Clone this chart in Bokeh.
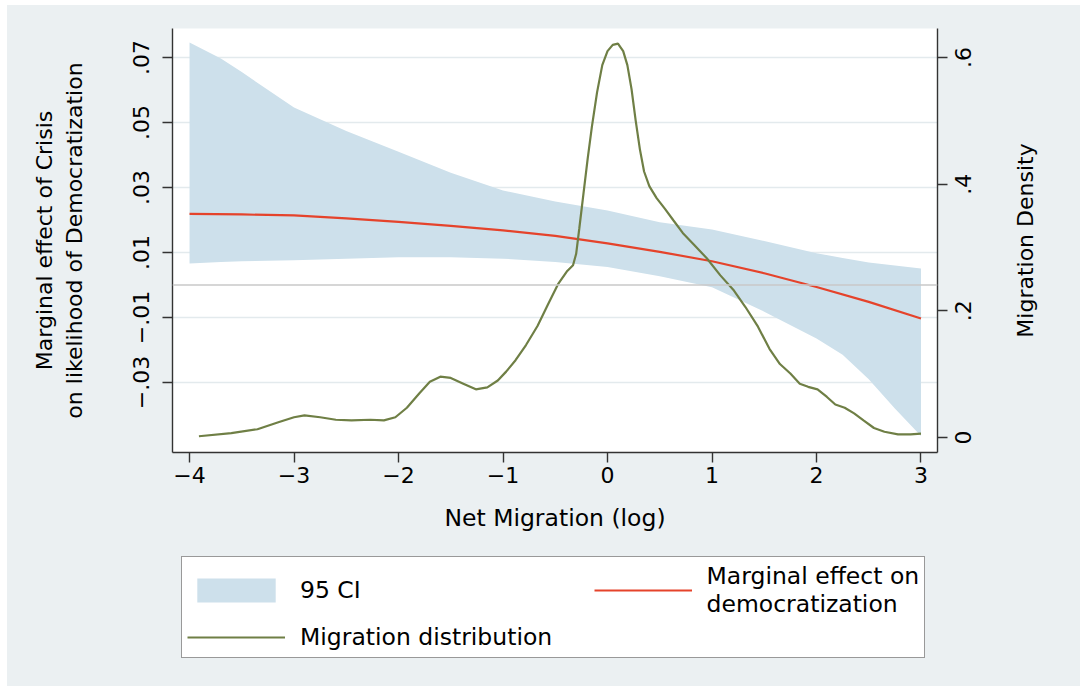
import math
from bokeh.plotting import figure
from bokeh.layouts import column, row
from bokeh.models import Range1d, LinearAxis, FixedTicker, Span, Legend, LegendItem
from bokeh.embed import file_html
from bokeh.resources import INLINE

# ---------------- data ----------------
ci_x = [-4.0, -3.7, -3.5, -3.0, -2.5, -2.0, -1.5, -1.0, -0.5, 0.0, 0.5, 1.0, 1.5, 2.0, 2.25, 2.5, 2.75, 3.0]
ci_upper = [0.0746, 0.0697, 0.0655, 0.0546, 0.0474, 0.0410, 0.0345, 0.0291, 0.0257, 0.0229, 0.0193,
            0.0171, 0.0135, 0.0098, 0.0083, 0.0069, 0.0060, 0.0051]
ci_lower = [0.0066, 0.0071, 0.0073, 0.0076, 0.0081, 0.0085, 0.0085, 0.0081, 0.0071, 0.0055, 0.0027,
            -0.0007, -0.0082, -0.0165, -0.0215, -0.0290, -0.0380, -0.0465]

me_x = [-4.0, -3.5, -3.0, -2.5, -2.0, -1.5, -1.0, -0.5, 0.0, 0.5, 1.0, 1.5, 2.0, 2.5, 3.0]
me_y = [0.0219, 0.0217, 0.0214, 0.0205, 0.0194, 0.0182, 0.0168, 0.0151, 0.0128, 0.0102, 0.0073,
        0.0036, -0.0006, -0.0052, -0.0103]

dens_x = [-3.91, -3.6, -3.35, -3.15, -3.0, -2.9, -2.75, -2.6, -2.45, -2.27, -2.14, -2.03, -1.92,
          -1.8, -1.7, -1.6, -1.5, -1.38, -1.26, -1.15, -1.05, -0.97, -0.88, -0.78, -0.67, -0.57,
          -0.47, -0.39, -0.33, -0.30, -0.27, -0.23, -0.19, -0.15, -0.10, -0.05, 0.0, 0.05, 0.10,
          0.15, 0.19, 0.23, 0.27, 0.31, 0.35, 0.40, 0.47, 0.55, 0.63, 0.72, 0.83, 0.95, 1.08, 1.21,
          1.32, 1.44, 1.55, 1.65, 1.75, 1.84, 1.92, 2.01, 2.10, 2.18, 2.27, 2.36, 2.45, 2.55, 2.65,
          2.78, 2.90, 3.0]
dens_y = [0.002, 0.007, 0.013, 0.024, 0.032, 0.035, 0.032, 0.028, 0.027, 0.028, 0.027, 0.032, 0.047,
          0.070, 0.088, 0.096, 0.094, 0.085, 0.076, 0.079, 0.090, 0.104, 0.122, 0.146, 0.176, 0.210,
          0.243, 0.262, 0.272, 0.290, 0.330, 0.385, 0.440, 0.490, 0.545, 0.588, 0.610, 0.620, 0.622,
          0.610, 0.588, 0.550, 0.500, 0.455, 0.420, 0.397, 0.378, 0.361, 0.343, 0.323, 0.304, 0.283,
          0.256, 0.232, 0.206, 0.175, 0.140, 0.116, 0.101, 0.085, 0.080, 0.076, 0.064, 0.052, 0.047,
          0.038, 0.027, 0.015, 0.009, 0.005, 0.005, 0.006]

x_ticks = [-4, -3, -2, -1, 0, 1, 2, 3]
x_tick_labels = ["\u22124", "\u22123", "\u22122", "\u22121", "0", "1", "2", "3"]
y_ticks = [-0.03, -0.01, 0.01, 0.03, 0.05, 0.07]
y_tick_labels = ["\u2212.03", "\u2212.01", ".01", ".03", ".05", ".07"]
d_ticks = [0, 0.2, 0.4, 0.6]
d_tick_labels = ["0", ".2", ".4", ".6"]

legend_labels = ["95 CI", "Migration distribution", "Marginal effect on\ndemocratization"]

# ---------------- styling ----------------
FONT = "DejaVu Sans"
FS_PX = 22
FS = "22px"
FS_H = "23.5px"
BG = "#ebf0f2"
BAND = "#cde0eb"
RED = "#e5432b"
GREEN = "#6f7f45"
AXC = "#333333"

FRAME_H = 424
D_LO, D_HI = -0.0237, 0.6458
MAIN_W = 998
RIGHT_B = 68

p = figure(width=MAIN_W, height=535, output_backend="svg", toolbar_location=None,
           x_range=Range1d(-4.163, 3.158), y_range=Range1d(-0.05154, 0.07892),
           min_border_left=165, min_border_right=RIGHT_B, min_border_top=23, min_border_bottom=88,
           border_fill_color=BG, background_fill_color="white", outline_line_color=None)
p.extra_y_ranges = {"dens": Range1d(D_LO, D_HI)}

# grid
p.xgrid.grid_line_color = None
p.ygrid.ticker = FixedTicker(ticks=y_ticks)
p.ygrid.grid_line_color = "#e3eaed"
p.ygrid.grid_line_width = 1.5

zero = Span(location=0, dimension="width", line_color="#c9c9c9", line_width=1.5)
p.add_layout(zero)

band = p.varea(x=ci_x, y1=ci_lower, y2=ci_upper, fill_color=BAND, fill_alpha=1.0)
me = p.line(me_x, me_y, line_color=RED, line_width=2.2)
dens = p.line(dens_x, dens_y, line_color=GREEN, line_width=2.2, y_range_name="dens")

def style_axis(ax):
    ax.axis_line_color = AXC
    ax.axis_line_width = 1.4
    ax.major_tick_line_color = AXC
    ax.major_tick_line_width = 1.4
    ax.major_tick_out = 10
    ax.major_tick_in = 0
    ax.minor_tick_line_color = None
    ax.major_label_text_font = FONT
    ax.major_label_text_font_size = FS
    ax.major_label_text_color = "black"
    ax.axis_label_text_font = FONT
    ax.axis_label_text_font_size = FS
    ax.axis_label_text_font_style = "normal"
    ax.axis_label_text_color = "black"

# x axis
xa = p.xaxis[0]
style_axis(xa)
xa.ticker = FixedTicker(ticks=x_ticks)
xa.major_label_overrides = {t: l for t, l in zip(x_ticks, x_tick_labels)}
xa.major_label_standoff = 4
xa.axis_label = "Net Migration (log)"
xa.axis_label_text_font_size = FS_H
xa.axis_label_standoff = 18

# left y axis
ya = p.yaxis[0]
style_axis(ya)
ya.ticker = FixedTicker(ticks=y_ticks)
ya.major_label_overrides = {t: l for t, l in zip(y_ticks, y_tick_labels)}
ya.major_label_orientation = "vertical"
ya.major_label_standoff = 13
ya.axis_label = "Marginal effect of Crisis\non likelihood of Democratization"
ya.axis_label_standoff = 44

# ---- right axis: tick marks at the true values (minor ticks), labels reading
#      bottom-to-top and centred on those ticks ----
px_per_unit = FRAME_H / (D_HI - D_LO)

def text_len_px(s):
    return FS_PX * sum(0.318 if ch == "." else 0.636 for ch in s)

lab_pos = [round(t - (text_len_px(l) / 2.0) / px_per_unit, 6) for t, l in zip(d_ticks, d_tick_labels)]
rb = LinearAxis(y_range_name="dens")
style_axis(rb)
rb.ticker = FixedTicker(ticks=lab_pos, minor_ticks=d_ticks)
rb.major_label_overrides = {t: l for t, l in zip(lab_pos, d_tick_labels)}
rb.major_tick_line_color = None
rb.major_tick_out = 0
rb.minor_tick_line_color = AXC
rb.minor_tick_line_width = 1.4
rb.minor_tick_out = 10
rb.minor_tick_in = 0
rb.major_label_orientation = math.pi / 2
rb.major_label_standoff = 16
p.add_layout(rb, "right")

# ---------------- legend panel (frame aligned with the plot above) ----------------
lg = figure(width=MAIN_W, height=146, output_backend="svg", toolbar_location=None,
            x_range=Range1d(0, 1), y_range=Range1d(0, 1),
            x_axis_location=None, y_axis_location=None,
            min_border_left=165, min_border_right=RIGHT_B, min_border_top=0, min_border_bottom=0,
            border_fill_color=BG, background_fill_color=BG, outline_line_color=None)
lg.xgrid.grid_line_color = None
lg.ygrid.grid_line_color = None
nan = float("nan")
k_band = lg.varea(x=[nan], y1=[nan], y2=[nan], fill_color=BAND, fill_alpha=1.0)
k_me = lg.line(x=[nan], y=[nan], line_color=RED, line_width=2.2)
k_dens = lg.line(x=[nan], y=[nan], line_color=GREEN, line_width=2.2)

legend = Legend(items=[
    LegendItem(label=legend_labels[0], renderers=[k_band]),
    LegendItem(label=legend_labels[1] + "\u00a0" * 5, renderers=[k_dens]),
    LegendItem(label=legend_labels[2], renderers=[k_me]),
], ncols=2, location=(9, 28))
legend.label_text_font = FONT
legend.label_text_font_size = FS_H
legend.label_text_color = "black"
legend.glyph_width = 98
legend.glyph_height = 30
legend.label_standoff = 15
legend.padding = 5
legend.spacing = 4
legend.margin = 0
legend.border_line_color = AXC
legend.border_line_width = 1.4
legend.background_fill_color = "white"
legend.background_fill_alpha = 1.0
lg.add_layout(legend)

# ---------------- right title strip: "Migration Density" reading bottom-to-top ----------------
ft = figure(width=1073 - MAIN_W, height=681, output_backend="svg", toolbar_location=None,
            x_range=Range1d(0, 1), y_range=Range1d(0, 1), x_axis_location=None,
            min_border_left=32, min_border_right=0, min_border_top=23, min_border_bottom=234,
            border_fill_color=BG, background_fill_color=BG, outline_line_color=None)
ft.xgrid.grid_line_color = None
ft.ygrid.grid_line_color = None
ta = ft.yaxis[0]
style_axis(ta)
ta.ticker = FixedTicker(ticks=[])
ta.axis_line_color = None
ta.major_tick_line_color = None
ta.major_tick_out = 0
ta.axis_label = "Migration Density"
ta.axis_label_standoff = 0

left_col = column(p, lg, spacing=0, styles={"background-color": BG})
layout = row(left_col, ft, spacing=0, margin=(5, 0, 0, 7), styles={"background-color": BG})
open("out.html", "w").write(file_html(layout, INLINE))
